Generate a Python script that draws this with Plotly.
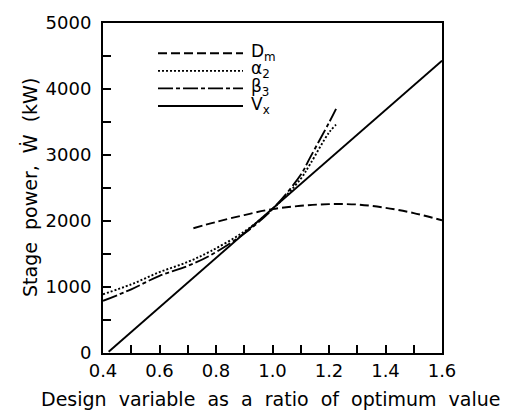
import plotly.graph_objects as go

# Data
vx_x = [0.42, 1.6]
vx_y = [20, 4430]

dm_x = [0.72, 0.8, 0.9, 1.0, 1.1, 1.2, 1.3, 1.4, 1.5, 1.6]
dm_y = [1890, 1985, 2090, 2180, 2230, 2255, 2250, 2200, 2120, 2010]

a2_x = [0.4, 0.5, 0.6, 0.7, 0.78, 0.9, 1.0, 1.1, 1.133, 1.2, 1.225]
a2_y = [890, 1040, 1225, 1380, 1540, 1840, 2180, 2640, 2860, 3340, 3460]

b3_x = [0.4, 0.5, 0.6, 0.7, 0.78, 0.9, 1.0, 1.1, 1.133, 1.2, 1.225]
b3_y = [790, 965, 1170, 1320, 1480, 1810, 2180, 2700, 2960, 3490, 3700]

legend_labels = ["D<sub>m</sub>", "α<sub>2</sub>", "β<sub>3</sub>", "V<sub>x</sub>"]
legend_dashes = ["9px,4px", "2px,2px", "15px,3px,4px,3px", "solid"]

x_title = "Design  variable  as  a  ratio  of  optimum  value"
y_title = "Stage  power,  Ẇ  (kW)"

FONT = "DejaVu Sans"
fig = go.Figure()
series = [(dm_x, dm_y), (a2_x, a2_y), (b3_x, b3_y), (vx_x, vx_y)]
for (xs, ys), dash in zip(series, legend_dashes):
    fig.add_trace(go.Scatter(x=xs, y=ys, mode="lines",
                             line=dict(color="black", width=1.9, dash=dash, shape="spline"),
                             showlegend=False))

# manual legend and titles positioned in pixels
plot_l, plot_r, plot_t, plot_b = 103, 442, 15, 353
W, H = 517, 414
def px(x):
    return (x - plot_l) / (plot_r - plot_l)
def py(y):
    return (plot_b - y) / (plot_b - plot_t)
rows_y = [46, 64, 82, 100]
for lab, dash, ry in zip(legend_labels, legend_dashes, rows_y):
    fig.add_shape(type="line", xref="paper", yref="paper", x0=px(158), x1=px(243), y0=py(ry), y1=py(ry),
                  line=dict(color="black", width=1.9, dash=dash))
    fig.add_annotation(xref="paper", yref="paper", x=px(249), y=py(ry - 1), text=lab, showarrow=False,
                       xanchor="left", yanchor="middle", font=dict(family=FONT, size=17, color="black"))

fig.add_annotation(xref="paper", yref="paper", x=px(270), y=py(400), text=x_title, showarrow=False,
                   xanchor="center", yanchor="middle", font=dict(family=FONT, size=19, color="black"))
fig.add_annotation(xref="paper", yref="paper", x=px(30), y=py(184), text=y_title, showarrow=False,
                   textangle=-90, xanchor="center", yanchor="middle",
                   font=dict(family=FONT, size=19, color="black"))

fig.update_layout(
    width=W, height=H,
    margin=dict(l=plot_l, r=W - plot_r, t=plot_t, b=H - plot_b),
    paper_bgcolor="white", plot_bgcolor="white",
    font=dict(family=FONT, size=18, color="black"),
    xaxis=dict(range=[0.4, 1.6], dtick=0.2, tick0=0.4, tickformat=".1f", ticks="inside", ticklen=8,
               tickwidth=1.5, tickcolor="black", showline=True, linecolor="black", linewidth=2,
               mirror=True, showgrid=False, zeroline=False, ticklabelstandoff=0,
               minor=dict(dtick=0.1, ticks="inside", ticklen=8, tickwidth=1.5, tickcolor="black", showgrid=False)),
    yaxis=dict(range=[0, 5000], dtick=1000, ticks="inside", ticklen=8, tickwidth=1.5, tickcolor="black",
               showline=True, linecolor="black", linewidth=2, mirror=True, showgrid=False, zeroline=False,
               ticklabelstandoff=6,
               minor=dict(dtick=500, ticks="inside", ticklen=8, tickwidth=1.5, tickcolor="black", showgrid=False)),
)
fig.write_html("out.html")
